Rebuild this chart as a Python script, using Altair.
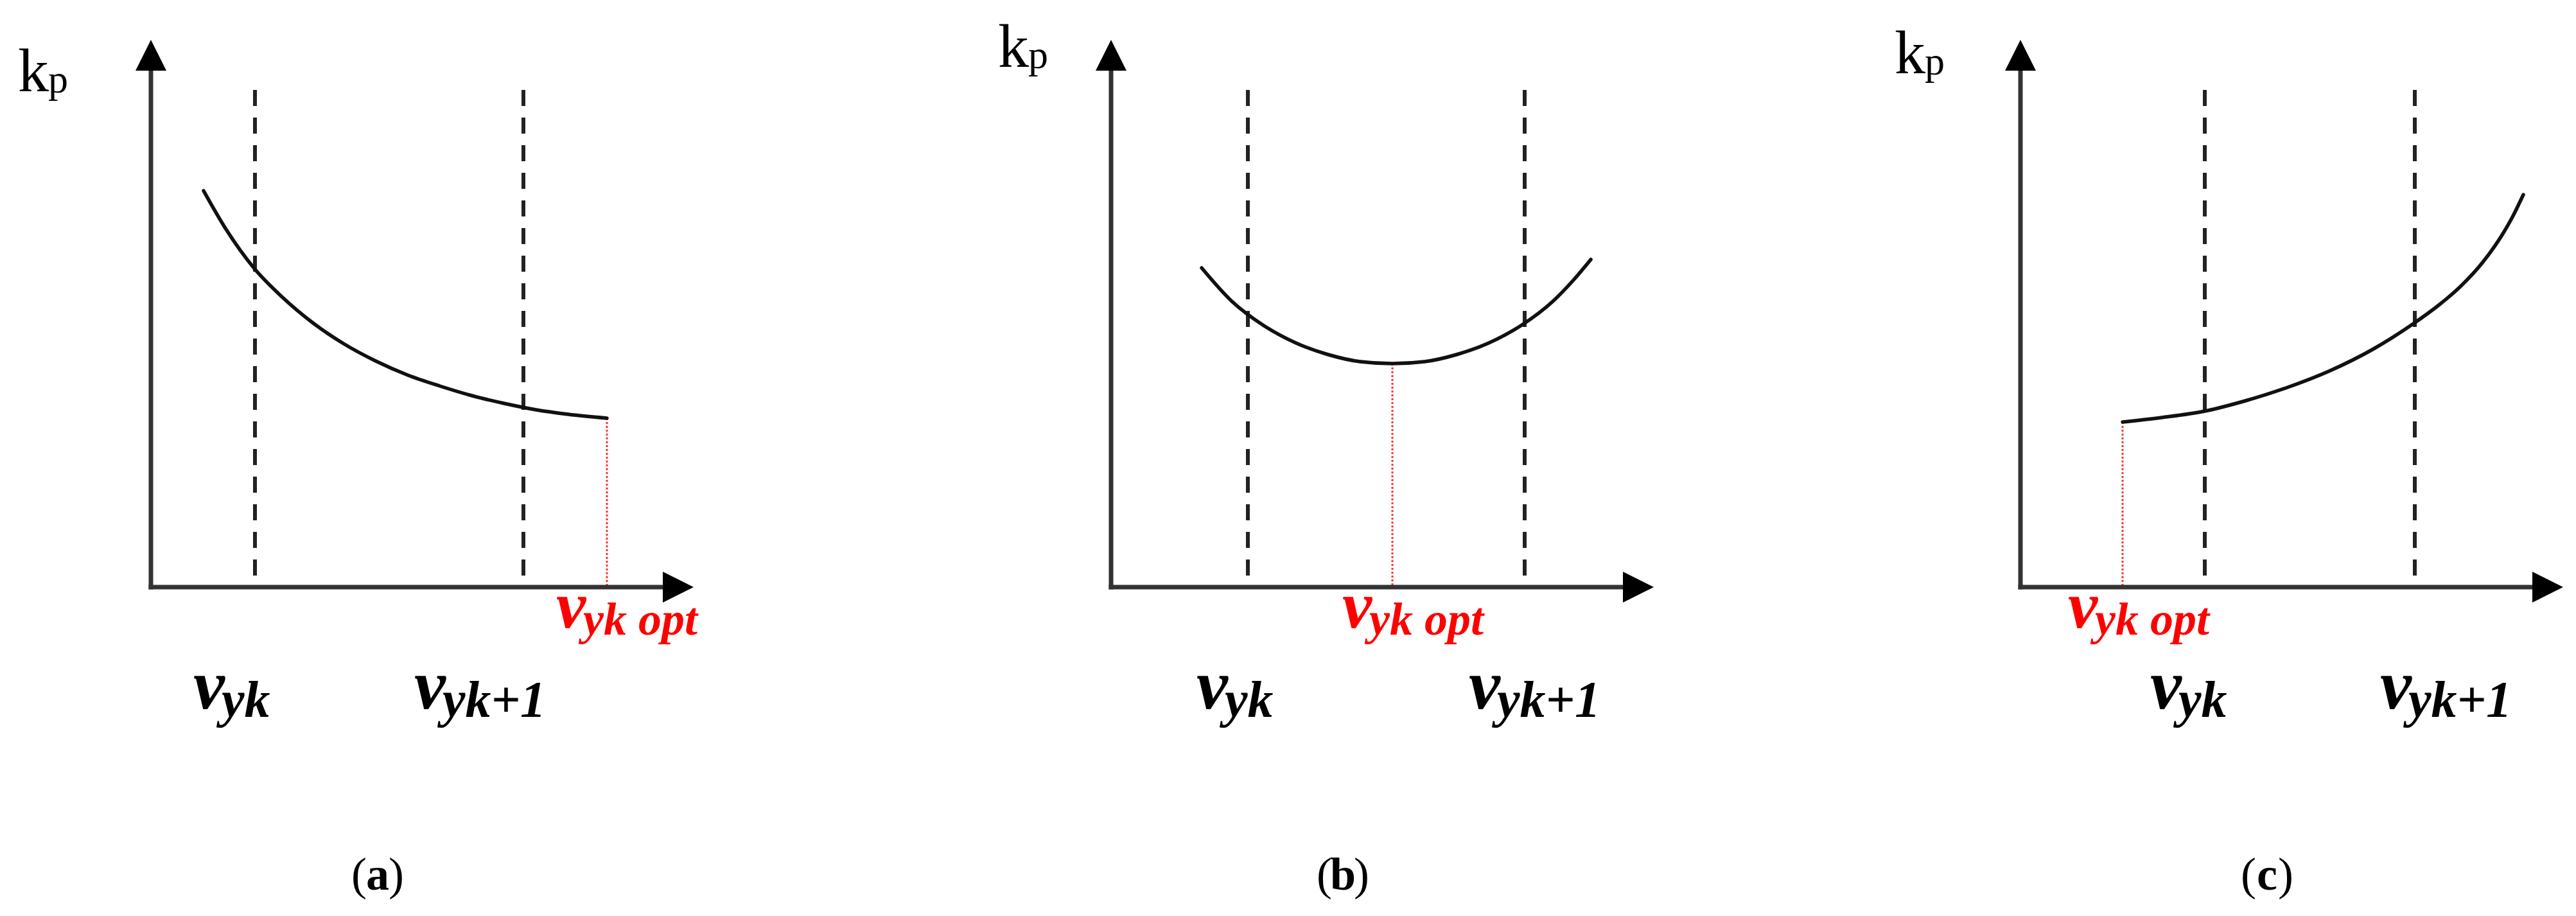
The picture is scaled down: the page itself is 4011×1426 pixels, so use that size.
import altair as alt
import pandas as pd

FONT = "Liberation Serif"
H = 1405
YDOM = [-4.99, 9.06]

# ---------------- data (schematic units) ----------------
# panel (a): k_p decreasing, optimum at the right end
a_v = [0.82, 1.17, 1.61, 2.05, 2.50, 3.00, 3.50, 4.00, 4.50, 5.00, 5.50, 6.00, 6.50, 7.10]
a_k = [6.17, 5.57, 4.96, 4.51, 4.13, 3.79, 3.52, 3.30, 3.13, 2.98, 2.86, 2.76, 2.69, 2.63]
a_grid = [1.62, 5.80]
a_opt_idx = 13
# panel (b): k_p with a minimum between the two speeds
b_v = [1.41, 1.88, 2.38, 2.88, 3.38, 3.88, 4.38, 4.88, 5.38, 5.88, 6.38, 6.88, 7.20, 7.47]
b_k = [4.97, 4.45, 4.07, 3.80, 3.62, 3.51, 3.48, 3.51, 3.62, 3.80, 4.07, 4.45, 4.78, 5.10]
b_grid = [2.13, 6.44]
b_opt_idx = 6
# panel (c): k_p increasing, optimum at the left end
c_v = [1.59, 2.20, 2.87, 3.50, 4.16, 4.80, 5.50, 6.13, 6.50, 6.84, 7.20, 7.51, 7.67, 7.83]
c_k = [2.57, 2.64, 2.74, 2.90, 3.11, 3.36, 3.71, 4.11, 4.38, 4.67, 5.06, 5.50, 5.78, 6.11]
c_grid = [2.87, 6.14]
c_opt_idx = 0

grid_labels = ["yk", "yk+1"]
opt_label = "yk opt"
y_label = ["k", "p"]
captions = ["a", "b", "c"]

# axis extents (arrow tips)
X_TIP = 8.45
Y_TIP = 8.52
GRID_TOP = 7.74

# ---------------- layout / annotation placement ----------------
panels_layout = {
    "a": dict(xdom=[-2.27, 11.45], width=1372, kp=(-2.07, 7.72), vlab=[0.66, 4.10], opt_x=6.31, cap=3.53),
    "b": dict(xdom=[-3.50, 11.20], width=1470, kp=(-1.76, 8.10), vlab=[1.33, 5.57], opt_x=3.60, cap=3.61),
    "c": dict(xdom=[-2.96, 8.57], width=1153, kp=(-1.96, 8.00), vlab=[2.02, 5.60], opt_x=0.74, cap=3.84),
}
ARROW = 0.24  # half arrow length in data units (48 px)


def panel(v, k, grid, opt_idx, lay, letter):
    xs = alt.Scale(domain=lay["xdom"], nice=False, zero=False)
    ys = alt.Scale(domain=YDOM, nice=False, zero=False)

    def X(f):
        return alt.X(f, type="quantitative", scale=xs, axis=None)

    def Y(f):
        return alt.Y(f, type="quantitative", scale=ys, axis=None)

    curve = alt.Chart(pd.DataFrame({"v": v, "k": k})).mark_line(
        interpolate="monotone", strokeWidth=5.5, color="#111111", strokeCap="round"
    ).encode(x=X("v"), y=Y("k"))

    dashed = alt.Chart(pd.DataFrame({"x": grid, "top": [GRID_TOP] * len(grid), "bot": [0] * len(grid)})).mark_rule(
        strokeDash=[25, 18], strokeWidth=6, color="#222222"
    ).encode(x=X("x"), y=Y("top"), y2=alt.Y2("bot"))

    red = alt.Chart(pd.DataFrame({"x": [v[opt_idx]], "y": [k[opt_idx]], "y2": [0]})).mark_rule(
        strokeDash=[3, 3], strokeWidth=3, color="#ff3030"
    ).encode(x=X("x"), y=Y("y"), y2=alt.Y2("y2"))

    yaxis = alt.Chart(pd.DataFrame({"x": [0], "y": [0], "y2": [Y_TIP - ARROW]})).mark_rule(
        strokeWidth=7, color="#333333", strokeCap="square"
    ).encode(x=X("x"), y=Y("y"), y2=alt.Y2("y2"))
    xaxis = alt.Chart(pd.DataFrame({"x": [0], "x2": [X_TIP - ARROW], "y": [0]})).mark_rule(
        strokeWidth=7, color="#333333", strokeCap="square"
    ).encode(x=X("x"), x2=alt.X2("x2"), y=Y("y"))

    up = alt.Chart(pd.DataFrame({"x": [0], "y": [Y_TIP - ARROW]})).mark_point(
        shape="M0,-1L1,1L-1,1Z", size=2304, filled=True, opacity=1, color="black", strokeWidth=0
    ).encode(x=X("x"), y=Y("y"))
    right = alt.Chart(pd.DataFrame({"x": [X_TIP - ARROW], "y": [0]})).mark_point(
        shape="M1,0L-1,-1L-1,1Z", size=2304, filled=True, opacity=1, color="black", strokeWidth=0
    ).encode(x=X("x"), y=Y("y"))

    kx, ky = lay["kp"]
    kp = alt.Chart(pd.DataFrame({
        "x": [kx, kx + 0.47], "y": [ky, ky - 0.02], "t": y_label, "fs": [96, 62]
    })).mark_text(font=FONT, align="left", baseline="alphabetic", color="black").encode(
        x=X("x"), y=Y("y"), text="t:N", size=alt.Size("fs:Q", scale=None))

    vx = lay["vlab"]
    vrows = []
    for x0, sub in zip(vx, grid_labels):
        vrows.append({"x": x0, "y": -1.89, "t": "v", "fs": 110})
        vrows.append({"x": x0 + 0.44, "y": -2.02, "t": sub, "fs": 80})
    vlab = alt.Chart(pd.DataFrame(vrows)).mark_text(
        font=FONT, align="left", baseline="alphabetic", color="black", fontStyle="italic", fontWeight="bold"
    ).encode(x=X("x"), y=Y("y"), text="t:N", size=alt.Size("fs:Q", scale=None))

    ox = lay["opt_x"]
    olab = alt.Chart(pd.DataFrame({
        "x": [ox, ox + 0.42], "y": [-0.63, -0.74], "t": ["v", opt_label], "fs": [104, 72]
    })).mark_text(
        font=FONT, align="left", baseline="alphabetic", color="#ff0000", fontStyle="italic", fontWeight="bold"
    ).encode(x=X("x"), y=Y("y"), text="t:N", size=alt.Size("fs:Q", scale=None))

    cx = lay["cap"]
    parens = alt.Chart(pd.DataFrame({
        "x": [cx - 0.17, cx + 0.17], "y": [-4.71, -4.71], "t": ["(", ")"], "al": ["right", "left"]
    }))
    lpar = parens.transform_filter(alt.datum.al == "right").mark_text(
        font=FONT, align="right", baseline="alphabetic", color="black", fontSize=72
    ).encode(x=X("x"), y=Y("y"), text="t:N")
    rpar = parens.transform_filter(alt.datum.al == "left").mark_text(
        font=FONT, align="left", baseline="alphabetic", color="black", fontSize=72
    ).encode(x=X("x"), y=Y("y"), text="t:N")
    let = alt.Chart(pd.DataFrame({"x": [cx], "y": [-4.71], "t": [letter]})).mark_text(
        font=FONT, align="center", baseline="alphabetic", color="black", fontSize=72, fontWeight="bold"
    ).encode(x=X("x"), y=Y("y"), text="t:N")

    return alt.layer(dashed, red, curve, yaxis, xaxis, up, right, kp, vlab, olab, lpar, rpar, let).properties(
        width=lay["width"], height=H
    )


pa = panel(a_v, a_k, a_grid, a_opt_idx, panels_layout["a"], captions[0])
pb = panel(b_v, b_k, b_grid, b_opt_idx, panels_layout["b"], captions[1])
pc = panel(c_v, c_k, c_grid, c_opt_idx, panels_layout["c"], captions[2])

chart = alt.hconcat(pa, pb, pc, spacing=0, bounds="flush").properties(
    padding=0, background="white"
).configure_view(stroke=None)

chart.save("out.html", embed_options={"renderer": "svg", "actions": False})
